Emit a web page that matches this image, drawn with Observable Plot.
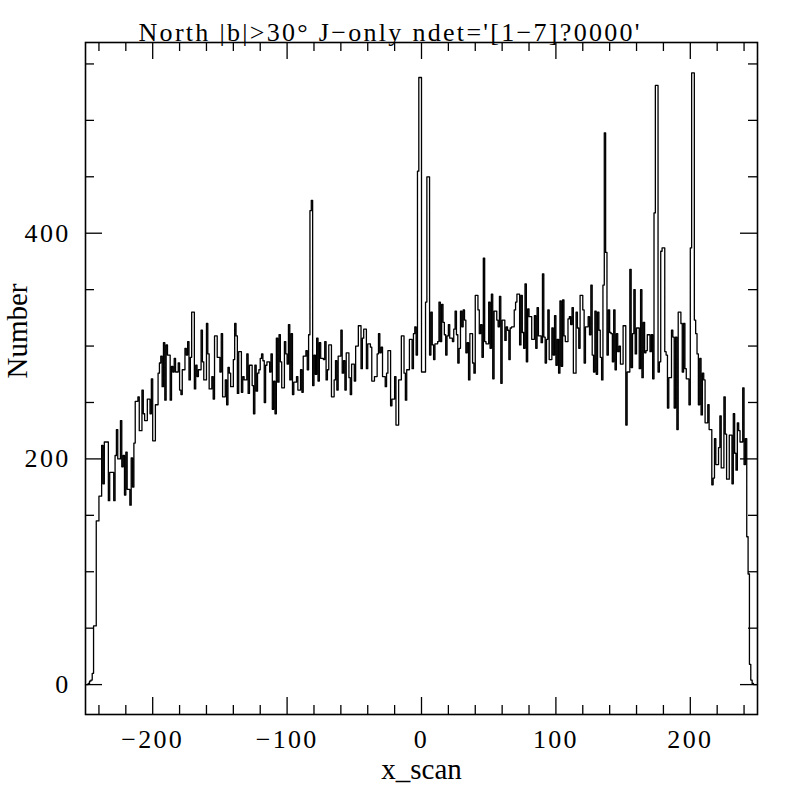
<!DOCTYPE html>
<html>
<head>
<meta charset="utf-8">
<script src="https://cdn.jsdelivr.net/npm/d3@7"></script>
<script src="https://cdn.jsdelivr.net/npm/@observablehq/plot@0.6"></script>
<style>
  html, body { margin: 0; padding: 0; background: #fff; }
</style>
</head>
<body>
<div id="chart"></div>
<script>
// Histogram of x_scan, bins of width 1 starting at -250
const binStart = -250;
const binWidth = 1;
const countsA = [ // -250 .. -151
  0,0,1,3,4,10,52,52,145,145,
  167,167,212,178,215,215,215,163,188,188,
  188,163,203,226,200,200,234,193,203,168,
  206,173,173,159,201,175,214,251,251,255,
  225,225,261,240,234,234,253,253,240,271,
  216,216,248,248,276,285,291,264,303,252,
  301,292,292,252,282,277,289,277,277,285,
  261,257,279,279,298,292,304,270,290,330,
  330,262,283,273,279,279,314,286,270,270,
  320,293,262,262,273,253,309,309,290,290
];
const countsB = [ // -150 .. -51
  277,311,255,255,270,248,281,276,264,264,
  288,320,309,258,295,295,259,273,270,270,
  293,258,283,283,265,240,283,260,276,279,
  289,293,287,250,283,286,286,277,293,244,
  269,240,307,268,310,286,263,263,304,293,
  284,319,270,311,257,268,268,273,261,261,
  279,259,291,291,296,279,310,420,429,265,
  292,275,307,269,303,289,289,288,304,270,
  279,301,301,255,255,270,287,261,291,291,
  314,276,287,261,294,294,272,257,284,284
];
const countsC = [ // -50 .. 49
  269,300,300,318,318,280,307,315,315,280,
  302,302,299,269,269,273,273,293,311,294,
  299,273,273,264,276,296,296,247,253,253,
  273,230,230,270,270,309,309,276,252,279,
  279,306,306,280,311,317,292,455,538,538,
  277,277,277,339,450,450,292,330,301,288,
  302,302,304,339,304,337,321,310,292,309,
  319,307,307,304,315,331,310,285,298,331,
  317,332,323,294,303,270,311,311,285,276,
  345,345,332,311,319,290,378,304,302,302
];
const countsD = [ // 50 .. 149
  339,298,346,271,331,331,323,317,344,267,
  323,323,305,317,314,288,316,317,317,332,
  339,346,346,301,345,312,298,355,286,333,
  326,326,306,306,327,298,334,309,309,303,
  364,308,285,306,332,288,288,316,292,327,
  283,306,276,340,282,341,309,304,304,324,
  326,319,334,276,276,330,316,298,345,345,
  332,285,317,317,326,310,354,292,277,331,
  275,330,314,290,270,354,489,383,292,332,
  312,311,286,332,279,311,295,300,284,284
];
const countsE = [ // 150 .. 249
  318,318,230,277,277,368,281,311,350,293,
  316,316,280,350,272,321,294,296,310,310,
  295,310,271,418,531,531,277,286,384,387,
  387,295,292,245,272,272,314,308,245,308,
  226,330,330,320,277,320,280,271,271,248,
  387,542,542,323,311,293,248,289,239,276,
  270,232,232,248,226,226,177,183,218,195,
  195,210,238,192,192,255,222,182,182,221,
  221,178,240,205,190,232,225,215,215,263,
  195,218,131,98,18,4,1,0,0,0
];

const xMajorTicks = [-200, -100, 0, 100, 200];
const xMinorTicks = [-240,-220,-180,-160,-140,-120,-80,-60,-40,-20,20,40,60,80,120,140,160,180,220,240];
const yMajorTicks = [0, 200, 400];
const yMinorTicks = [50, 100, 150, 250, 300, 350, 450, 500, 550];
const xTickLabels = [-200, -100, 0, 100, 200];
const yTickLabels = [0, 200, 400];
const titleText = "North |b|>30\u00b0 J\u2212only ndet='[1\u22127]?0000'";
const xLabel = "x_scan";
const yLabel = "Number";

const counts = [...countsA, ...countsB, ...countsC, ...countsD, ...countsE];
const points = counts.map((c, i) => ({x: binStart + i * binWidth, y: c}));
points.push({x: binStart + counts.length * binWidth, y: counts[counts.length - 1]});

const W = 800, H = 800;
const mL = 85, mR = 43, mT = 42, mB = 86;
const fw = W - mL - mR, fh = H - mT - mB;
const majorLen = 17, minorLen = 9;
const serif = "Liberation Serif";
const fmt = d => (d < 0 ? "\u2212" + Math.abs(d) : String(d));

const chart = Plot.plot({
  width: W,
  height: H,
  marginLeft: mL,
  marginRight: mR,
  marginTop: mT,
  marginBottom: mB,
  style: {background: "#fff", color: "#000"},
  x: {domain: [-250, 250], axis: null},
  y: {domain: [-26.5, 569], axis: null},
  marks: [
    // inward ticks on all four sides
    Plot.ruleX(xMajorTicks, {x: d => d, insetTop: fh - majorLen, stroke: "#000", strokeWidth: 1.3}),
    Plot.ruleX(xMajorTicks, {x: d => d, insetBottom: fh - majorLen, stroke: "#000", strokeWidth: 1.3}),
    Plot.ruleX(xMinorTicks, {x: d => d, insetTop: fh - minorLen, stroke: "#000", strokeWidth: 1.3}),
    Plot.ruleX(xMinorTicks, {x: d => d, insetBottom: fh - minorLen, stroke: "#000", strokeWidth: 1.3}),
    Plot.ruleY(yMajorTicks, {y: d => d, insetRight: fw - majorLen, stroke: "#000", strokeWidth: 1.3}),
    Plot.ruleY(yMajorTicks, {y: d => d, insetLeft: fw - majorLen, stroke: "#000", strokeWidth: 1.3}),
    Plot.ruleY(yMinorTicks, {y: d => d, insetRight: fw - minorLen, stroke: "#000", strokeWidth: 1.3}),
    Plot.ruleY(yMinorTicks, {y: d => d, insetLeft: fw - minorLen, stroke: "#000", strokeWidth: 1.3}),
    // histogram outline
    Plot.line(points, {x: "x", y: "y", curve: "step-after", stroke: "#000", strokeWidth: 1.3}),
    Plot.frame({stroke: "#000", strokeWidth: 1.6}),
    // tick labels
    Plot.text(xTickLabels, {x: d => d, frameAnchor: "bottom", dy: 33, lineAnchor: "bottom",
      text: fmt, fontFamily: serif, fontSize: 26, fill: "#000"}),
    Plot.text(yTickLabels, {y: d => d, frameAnchor: "left", dx: -15, textAnchor: "end",
      text: fmt, fontFamily: serif, fontSize: 26, fill: "#000"}),
    // axis labels
    Plot.text([xLabel], {frameAnchor: "bottom", dy: 64, lineAnchor: "bottom",
      text: d => d, fontFamily: serif, fontSize: 29, fill: "#000"}),
    Plot.text([yLabel], {frameAnchor: "left", dx: -59, rotate: -90, lineAnchor: "bottom",
      text: d => d, fontFamily: serif, fontSize: 29, fill: "#000"}),
    // title
    Plot.text([titleText], {frameAnchor: "top-left", dx: 53, dy: -1.3, lineAnchor: "bottom", textAnchor: "start",
      text: d => d, fontFamily: serif, fontSize: 26, fill: "#000"})
  ]
});

// Hershey-like wide lettering: add spacing to tick labels and title
const textGroups = d3.select(chart).selectAll('g[aria-label="text"]').nodes();
[0, 1, 4].forEach(i => {
  if (textGroups[i]) d3.select(textGroups[i]).style("letter-spacing", "2.3px");
});

document.getElementById("chart").appendChild(chart);
</script>
</body>
</html>
